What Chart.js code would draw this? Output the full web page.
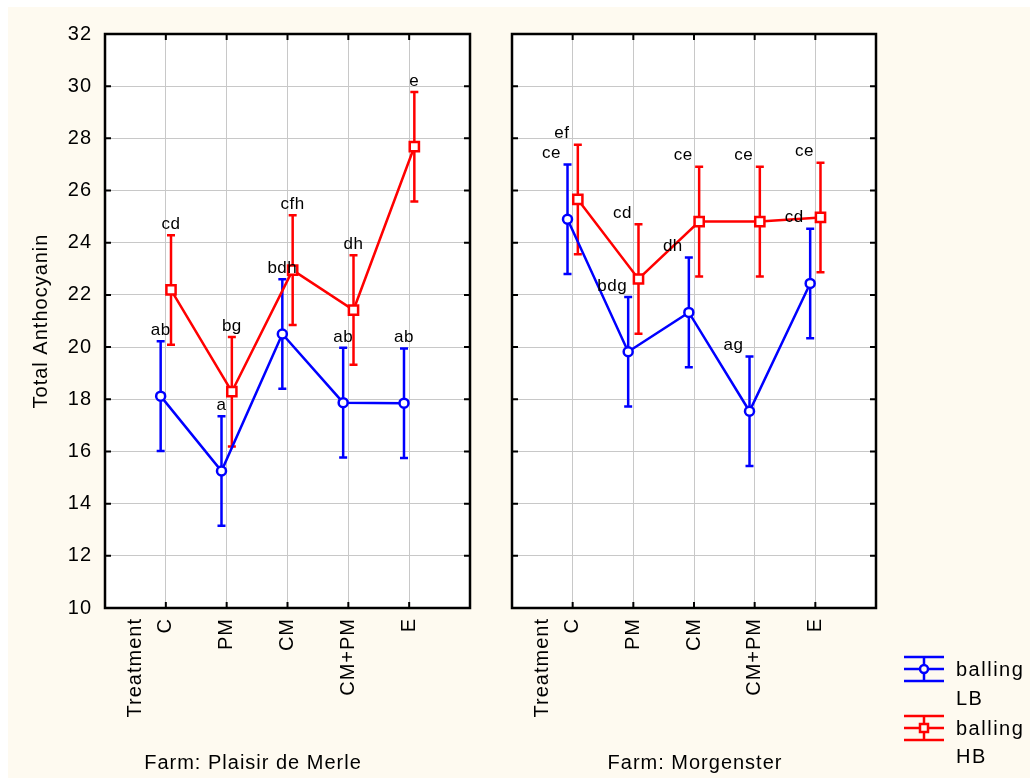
<!DOCTYPE html>
<html>
<head>
<meta charset="utf-8">
<title>Total Anthocyanin by farm and treatment</title>
<script src="https://cdn.jsdelivr.net/npm/chart.js@4.4.1/dist/chart.umd.min.js"></script>
<style>
  html, body { margin: 0; padding: 0; background: #fff; }
  #paper { position: absolute; left: 8px; top: 7px; width: 1022px; height: 771px; background: #fefaf0; }
  canvas { position: absolute; top: 0; }
  #left { left: 0; }
  #right { left: 490px; }
</style>
</head>
<body>
<div id="paper"></div>
<canvas id="left" width="490" height="778"></canvas>
<canvas id="right" width="540" height="778"></canvas>
<script>
// --- data ---
const categories = ["C", "PM", "CM", "CM+PM", "E"];
const xTickValues = [0.5, 1, 2, 3, 4, 5];   // 0.5 carries the "Treatment" caption
const yMin = 10, yMax = 32, yStep = 2;

const plaisirLB = [18.12, 15.25, 20.50, 17.87, 17.85];
const plaisirLBErr = [2.1, 2.1, 2.1, 2.1, 2.1];
const plaisirHB = [22.19, 18.29, 22.95, 21.42, 27.68];
const plaisirHBErr = [2.1, 2.1, 2.1, 2.1, 2.1];

const morgLB = [24.90, 19.82, 21.33, 17.54, 22.44];
const morgLBErr = [2.1, 2.1, 2.1, 2.1, 2.1];
const morgHB = [25.66, 22.61, 24.81, 24.81, 24.97];
const morgHBErr = [2.1, 2.1, 2.1, 2.1, 2.1];

const plaisirLBLetters = ["ab", "a", "bdh", "ab", "ab"];
const plaisirHBLetters = ["cd", "bg", "cfh", "dh", "e"];
const morgLBLetters = ["ce", "bdg", "dh", "ag", "cd"];
const morgHBLetters = ["ef", "cd", "ce", "ce", "ce"];

// --- styles ---
const FONT = '"Liberation Sans", Arial, sans-serif';
const BLUE = "#0000ff";
const RED = "#ff0000";
const GRID = "#c8c8c8";
const DODGE = 0.085;
const LW = 2.5;

const points = (vals, shift) => vals.map((v, i) => ({ x: i + 1 + shift, y: v }));

function drawText(ctx, text, x, y, size, rotate, spacing) {
    ctx.save();
    ctx.font = size + "px " + FONT;
    ctx.letterSpacing = (spacing || 0) + "px";
    ctx.fillStyle = "#000";
    ctx.textAlign = "center";
    ctx.textBaseline = "middle";
    ctx.translate(x, y);
    if (rotate) ctx.rotate(-Math.PI / 2);
    ctx.fillText(text, 0, 0);
    ctx.restore();
}

function glyph(ctx, cx, cy, color, style) {
    ctx.save();
    ctx.strokeStyle = color;
    ctx.lineWidth = LW;
    ctx.beginPath();
    [-12, 0, 12].forEach(d => { ctx.moveTo(cx - 20, cy + d); ctx.lineTo(cx + 20, cy + d); });
    ctx.moveTo(cx, cy - 12); ctx.lineTo(cx, cy + 12);
    ctx.stroke();
    ctx.fillStyle = "#fefaf0";
    ctx.beginPath();
    if (style === "circle") ctx.arc(cx, cy, 4, 0, Math.PI * 2);
    else ctx.rect(cx - 4, cy - 4, 8, 8);
    ctx.fill();
    ctx.stroke();
    ctx.restore();
}

const panelPlugin = {
    id: "panel",
    beforeDraw(chart) {
        const { ctx, chartArea: a } = chart;
        ctx.save();
        ctx.fillStyle = "#fff";
        ctx.fillRect(a.left, a.top, a.right - a.left, a.bottom - a.top);
        ctx.restore();
        ctx.letterSpacing = "1px";
    },
    beforeDatasetsDraw(chart, args, opts) {
        const { ctx } = chart;
        const ys = chart.scales.y;
        chart.data.datasets.forEach((ds, d) => {
            const meta = chart.getDatasetMeta(d);
            ctx.save();
            ctx.strokeStyle = ds.borderColor;
            ctx.lineWidth = LW;
            ds.data.forEach((p, i) => {
                const x = meta.data[i].x;
                const hi = ys.getPixelForValue(p.y + opts.errors[d][i]);
                const lo = ys.getPixelForValue(p.y - opts.errors[d][i]);
                ctx.beginPath();
                ctx.moveTo(x, hi); ctx.lineTo(x, lo);
                ctx.moveTo(x - 4, hi); ctx.lineTo(x + 4, hi);
                ctx.moveTo(x - 4, lo); ctx.lineTo(x + 4, lo);
                ctx.stroke();
            });
            ctx.restore();
        });
    },
    afterDatasetsDraw(chart, args, opts) {
        const ys = chart.scales.y;
        chart.data.datasets.forEach((ds, d) => {
            const meta = chart.getDatasetMeta(d);
            ds.data.forEach((p, i) => {
                const top = ys.getPixelForValue(p.y + opts.errors[d][i]);
                drawText(chart.ctx, opts.letters[d][i], meta.data[i].x + opts.letterDx, top - 11, 17, false, 0.5);
            });
        });
    },
    afterDraw(chart, args, opts) {
        const { ctx, chartArea: a, scales } = chart;
        ctx.save();
        ctx.strokeStyle = "#000";
        ctx.lineWidth = 2.5;
        ctx.strokeRect(a.left, a.top, a.right - a.left, a.bottom - a.top);
        ctx.lineWidth = 2;
        ctx.beginPath();
        scales.y.ticks.forEach(t => {
            if (t.value <= yMin || t.value >= yMax) return;
            const y = scales.y.getPixelForValue(t.value);
            ctx.moveTo(a.left, y); ctx.lineTo(a.left + 6, y);
            ctx.moveTo(a.right - 6, y); ctx.lineTo(a.right, y);
        });
        categories.forEach((c, i) => {
            const x = scales.x.getPixelForValue(i + 1);
            ctx.moveTo(x, a.top); ctx.lineTo(x, a.top + 6);
            ctx.moveTo(x, a.bottom - 6); ctx.lineTo(x, a.bottom);
        });
        ctx.stroke();
        ctx.restore();
        (opts.texts || []).forEach(t => drawText(ctx, t.text, t.x, t.y, 20, t.rotate, 1));
        if (opts.legend) {
            const L = opts.legend;
            glyph(ctx, L.x, L.y, BLUE, "circle");
            glyph(ctx, L.x, L.y + 59, RED, "rect");
            ctx.save();
            ctx.font = "20px " + FONT;
            ctx.letterSpacing = "1.5px";
            ctx.fillStyle = "#000";
            ctx.textAlign = "left";
            ctx.textBaseline = "middle";
            ctx.fillText("balling", L.x + 32, L.y + 1);
            ctx.fillText("LB", L.x + 32, L.y + 30);
            ctx.fillText("balling", L.x + 32, L.y + 60);
            ctx.fillText("HB", L.x + 32, L.y + 88);
            ctx.restore();
        }
    }
};

function makePanel(canvasId, lb, lbErr, hb, hbErr, lbLetters, hbLetters, cfg) {
    return new Chart(document.getElementById(canvasId), {
        type: "line",
        data: {
            datasets: [
                {
                    label: "balling LB", data: points(lb, -DODGE), order: 2,
                    borderColor: BLUE, borderWidth: LW, pointStyle: "circle", pointRadius: 4.5,
                    pointBorderWidth: LW, pointBackgroundColor: "#fff", pointBorderColor: BLUE, tension: 0,
                },
                {
                    label: "balling HB", data: points(hb, DODGE), order: 1,
                    borderColor: RED, borderWidth: LW, pointStyle: "rect", pointRadius: 6.5,
                    pointBorderWidth: LW, pointBackgroundColor: "#fff", pointBorderColor: RED, tension: 0,
                },
            ],
        },
        options: {
            responsive: false,
            animation: false,
            layout: { padding: { left: 0, top: 34, right: cfg.padRight, bottom: 0 } },
            plugins: {
                legend: { display: false },
                tooltip: { enabled: false },
                panel: {
                    errors: [lbErr, hbErr],
                    letters: [lbLetters, hbLetters],
                    letterDx: cfg.letterDx,
                    texts: cfg.texts,
                    legend: cfg.legend,
                },
            },
            scales: {
                x: {
                    type: "linear", min: 0, max: categories.length + 1,
                    afterBuildTicks: s => { s.ticks = xTickValues.map(v => ({ value: v })); },
                    afterFit: s => { s.height = 170; s.paddingLeft = 0; s.paddingRight = 0; },
                    border: { display: false },
                    grid: {
                        color: c => (c.tick && c.tick.value === 0.5 ? "rgba(0,0,0,0)" : GRID),
                        drawTicks: false,
                    },
                    ticks: {
                        autoSkip: false, maxRotation: 90, minRotation: 90, padding: 10,
                        color: "#000", font: { family: FONT, size: 20 },
                        callback: v => (v === 0.5 ? "Treatment" : categories[v - 1]),
                    },
                },
                y: {
                    min: yMin, max: yMax,
                    afterFit: s => { s.width = cfg.yWidth; s.paddingTop = 0; s.paddingBottom = 0; },
                    border: { display: false },
                    grid: { color: GRID, drawTicks: false },
                    ticks: {
                        display: cfg.yLabels, stepSize: yStep, padding: 13,
                        color: "#000", font: { family: FONT, size: 20 },
                    },
                },
            },
        },
        plugins: [panelPlugin],
    });
}

makePanel("left", plaisirLB, plaisirLBErr, plaisirHB, plaisirHBErr, plaisirLBLetters, plaisirHBLetters, {
    padRight: 20, yWidth: 105, yLabels: true, letterDx: 0,
    texts: [
        { text: "Total Anthocyanin", x: 41, y: 321, rotate: true },
        { text: "Farm: Plaisir de Merle", x: 253, y: 763 },
    ],
});

makePanel("right", morgLB, morgLBErr, morgHB, morgHBErr, morgLBLetters, morgHBLetters, {
    padRight: 154, yWidth: 22, yLabels: false, letterDx: -16,
    texts: [{ text: "Farm: Morgenster", x: 205, y: 763 }],
    legend: { x: 434, y: 669 },
});
</script>
</body>
</html>
